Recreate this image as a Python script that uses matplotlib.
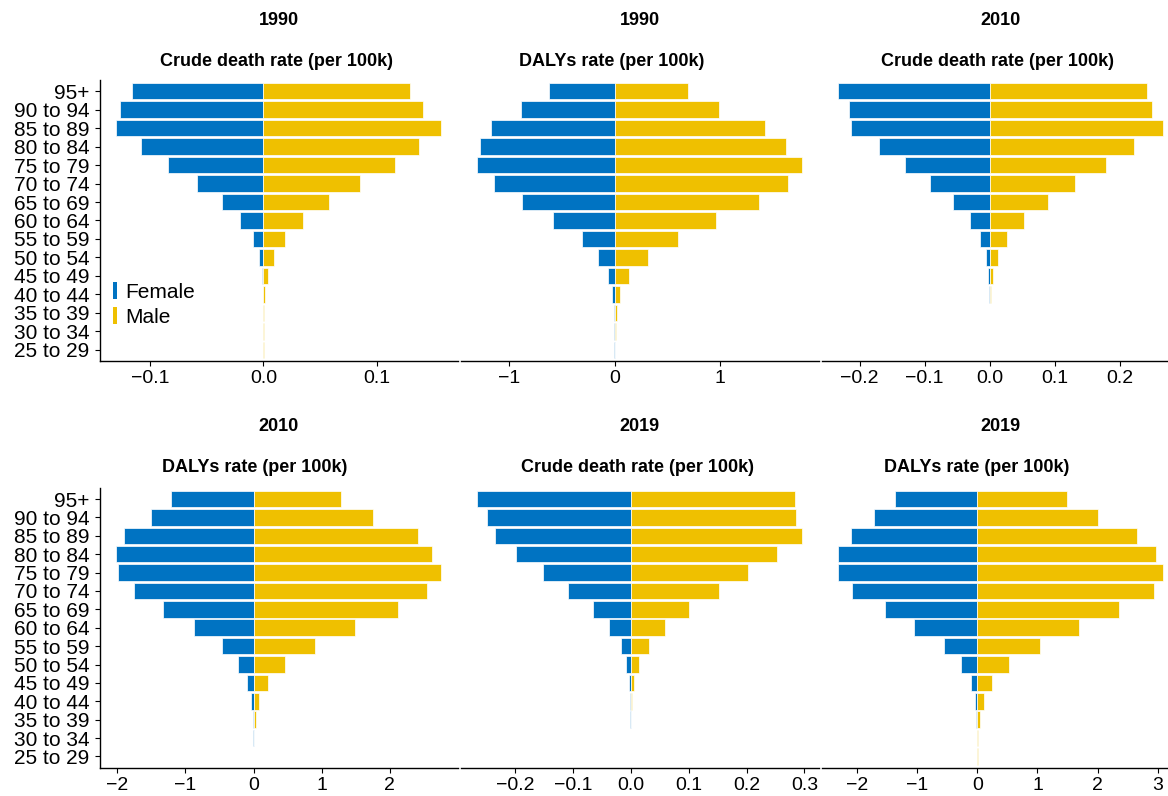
import matplotlib
matplotlib.use("Agg")
import matplotlib.pyplot as plt
from matplotlib.patches import Patch

plt.rcParams['font.family'] = ['Liberation Sans', 'DejaVu Sans']

# Age groups, top of the pyramid first
ages = ['95+', '90 to 94', '85 to 89', '80 to 84', '75 to 79', '70 to 74',
        '65 to 69', '60 to 64', '55 to 59', '50 to 54', '45 to 49',
        '40 to 44', '35 to 39', '30 to 34', '25 to 29']

# Rates per age group (female values are drawn to the left)
crude_1990_f = [0.1165, 0.127, 0.130, 0.108, 0.0847, 0.0587, 0.0369, 0.0206,
                0.0088, 0.0035, 0.0009, 0.0003, 0.0001, 0.00004, 0.00001]
crude_1990_m = [0.1295, 0.141, 0.157, 0.1375, 0.116, 0.0855, 0.058, 0.0345,
                0.0192, 0.0091, 0.0038, 0.0015, 0.0009, 0.0003, 0.0001]

daly_1990_f = [0.618, 0.886, 1.173, 1.278, 1.300, 1.139, 0.874, 0.587,
               0.312, 0.155, 0.060, 0.022, 0.009, 0.003, 0.001]
daly_1990_m = [0.691, 0.991, 1.420, 1.618, 1.776, 1.644, 1.363, 0.956,
               0.603, 0.315, 0.136, 0.054, 0.022, 0.009, 0.003]

crude_2010_f = [0.2328, 0.2164, 0.2128, 0.1708, 0.1297, 0.0913, 0.0564, 0.0308,
                0.0144, 0.0062, 0.0021, 0.0008, 0.0003, 0.0001, 0.00003]
crude_2010_m = [0.242, 0.2487, 0.2667, 0.221, 0.179, 0.1318, 0.0897, 0.0523,
                0.0272, 0.0123, 0.0051, 0.0021, 0.001, 0.0004, 0.0001]

daly_2010_f = [1.218, 1.511, 1.907, 2.015, 1.990, 1.760, 1.335, 0.870,
               0.460, 0.230, 0.093, 0.034, 0.013, 0.004, 0.001]
daly_2010_m = [1.281, 1.756, 2.416, 2.616, 2.753, 2.548, 2.122, 1.482,
               0.900, 0.460, 0.205, 0.078, 0.030, 0.010, 0.003]

crude_2019_f = [0.2651, 0.2478, 0.2352, 0.1977, 0.1522, 0.1084, 0.0657, 0.0375,
                0.0167, 0.0075, 0.0029, 0.001, 0.0004, 0.0001, 0.00003]
crude_2019_m = [0.2836, 0.2853, 0.2963, 0.253, 0.2029, 0.1527, 0.1003, 0.0599,
                0.0317, 0.0138, 0.0058, 0.0023, 0.0009, 0.0003, 0.0001]

daly_2019_f = [1.372, 1.717, 2.100, 2.317, 2.317, 2.094, 1.544, 1.056,
               0.561, 0.278, 0.111, 0.044, 0.017, 0.006, 0.002]
daly_2019_m = [1.489, 2.000, 2.661, 2.972, 3.094, 2.944, 2.361, 1.683,
               1.039, 0.533, 0.244, 0.106, 0.044, 0.017, 0.005]

years = ['1990', '1990', '2010', '2010', '2019', '2019']
measures = ['Crude death rate (per 100k)', 'DALYs rate (per 100k)',
            'Crude death rate (per 100k)', 'DALYs rate (per 100k)',
            'Crude death rate (per 100k)', 'DALYs rate (per 100k)']
female_sets = [crude_1990_f, daly_1990_f, crude_2010_f,
               daly_2010_f, crude_2019_f, daly_2019_f]
male_sets = [crude_1990_m, daly_1990_m, crude_2010_m,
             daly_2010_m, crude_2019_m, daly_2019_m]
x_ticks = [[-0.1, 0.0, 0.1], [-1, 0, 1], [-0.2, -0.1, 0.0, 0.1, 0.2],
           [-2, -1, 0, 1, 2], [-0.2, -0.1, 0.0, 0.1, 0.2, 0.3],
           [-2, -1, 0, 1, 2, 3]]
tick_fmt = ['{:.1f}', '{:.0f}', '{:.1f}', '{:.0f}', '{:.1f}', '{:.0f}']

BLUE = '#0073C2'
YELLOW = '#EFC000'

W, H = 1168, 796
fig = plt.figure(figsize=(W / 100, H / 100), dpi=100)

# panel placement in pixels (left, top, bottom)
col_left = [100, 461, 822]
panel_w = 357.5
rows = [(80, 361), (488, 767.5)]
title_y = [(20.7, 61.7), (426.7, 467.7)]
sub_x = [0.494, 0.422, 0.492, 0.434, 0.494, 0.434]

ypos = list(range(len(ages)))[::-1]

for i in range(6):
    r, c = divmod(i, 3)
    top, bot = rows[r]
    left = col_left[c]
    ax = fig.add_axes([left / W, 1 - bot / H, panel_w / W, (bot - top) / H])

    fem = [-v for v in female_sets[i]]
    mal = male_sets[i]
    ax.barh(ypos, fem, height=0.9, color=BLUE, edgecolor='white', linewidth=0.5)
    ax.barh(ypos, mal, height=0.9, color=YELLOW, edgecolor='white', linewidth=0.5)

    lo, hi = min(fem), max(mal)
    pad = 0.05 * (hi - lo)
    ax.set_xlim(lo - pad, hi + pad)
    ax.set_ylim(-0.6, len(ages) - 1 + 0.6)

    ax.set_xticks(x_ticks[i])
    ax.set_xticklabels([tick_fmt[i].format(t).replace('-', '\u2212') for t in x_ticks[i]])

    for s in ['top', 'right']:
        ax.spines[s].set_visible(False)
    ax.spines['bottom'].set_linewidth(1.0)
    ax.spines['left'].set_linewidth(1.0)
    ax.tick_params(axis='x', labelsize=14, length=3.6, width=0.8,
                   colors='black', pad=3)
    ax.tick_params(axis='y', labelsize=15, length=3.6, width=0.8,
                   colors='black', pad=4)

    if c == 0:
        ax.set_yticks(ypos)
        ax.set_yticklabels(ages)
    else:
        ax.spines['left'].set_visible(False)
        ax.set_yticks([])

    ax.patch.set_visible(False)

    fig.text((left + panel_w / 2) / W, 1 - title_y[r][0] / H, years[i],
             ha='center', va='center', fontsize=13, fontweight='bold')
    fig.text((left + sub_x[i] * panel_w) / W, 1 - title_y[r][1] / H, measures[i],
             ha='center', va='center', fontsize=13, fontweight='bold')

    if i == 0:
        handles = [Patch(facecolor=BLUE, label='Female'),
                   Patch(facecolor=YELLOW, label='Male')]
        ax.legend(handles=handles, loc='upper left', bbox_to_anchor=(0.037, 0.28),
                  frameon=False, fontsize=15, handlelength=0.16, handleheight=0.85,
                  handletextpad=0.4, borderpad=0, borderaxespad=0,
                  labelspacing=0.25)

fig.savefig('out.png', dpi=100)
